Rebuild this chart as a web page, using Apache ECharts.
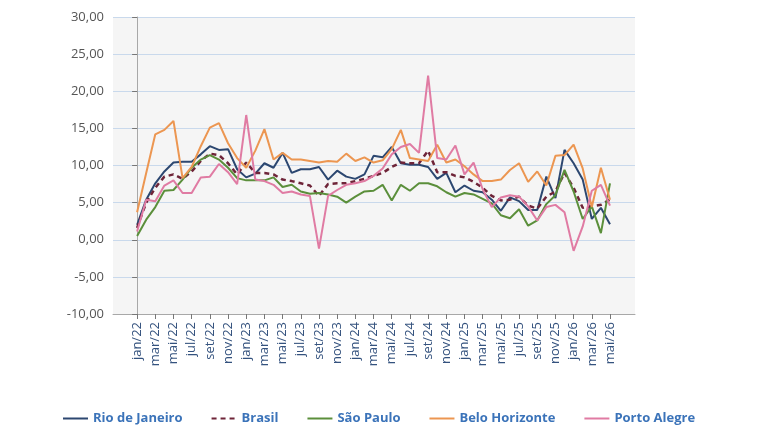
<!DOCTYPE html>
<html>
<head>
<meta charset="utf-8">
<script src="https://cdn.jsdelivr.net/npm/echarts@6/dist/echarts.min.js"></script>
<style>
  html, body { margin: 0; padding: 0; background: #fff; }
  #grafico { width: 768px; height: 432px; }
</style>
</head>
<body>
<div id="grafico"></div>
<script>
// meses jan/22 .. mai/26
var meses = [
    'jan/22', 'fev/22', 'mar/22', 'abr/22', 'mai/22', 'jun/22', 'jul/22', 'ago/22', 'set/22', 'out/22', 'nov/22', 'dez/22',
    'jan/23', 'fev/23', 'mar/23', 'abr/23', 'mai/23', 'jun/23', 'jul/23', 'ago/23', 'set/23', 'out/23', 'nov/23', 'dez/23',
    'jan/24', 'fev/24', 'mar/24', 'abr/24', 'mai/24', 'jun/24', 'jul/24', 'ago/24', 'set/24', 'out/24', 'nov/24', 'dez/24',
    'jan/25', 'fev/25', 'mar/25', 'abr/25', 'mai/25', 'jun/25', 'jul/25', 'ago/25', 'set/25', 'out/25', 'nov/25', 'dez/25',
    'jan/26', 'fev/26', 'mar/26', 'abr/26', 'mai/26'
];

var rioDeJaneiro = [
    2.0, 5.4, 7.6, 9.2, 10.4, 10.5, 10.5, 11.5, 12.6, 12.1, 12.2, 9.5,
    8.4, 8.9, 10.3, 9.7, 11.7, 9.0, 9.5, 9.5, 9.8, 8.1, 9.3, 8.5,
    8.2, 8.8, 11.3, 11.1, 12.5, 10.3, 10.1, 10.1, 9.8, 8.2, 9.0, 6.4,
    7.3, 6.6, 6.4, 5.4, 3.9, 5.7, 5.2, 4.0, 4.0, 8.5, 5.6, 12.1,
    10.3, 8.1, 2.8, 4.3, 2.1
];
var brasil = [
    1.6, 5.0, 7.0, 8.5, 8.8, 8.2, 9.2, 10.6, 11.6, 11.4, 10.3, 8.8,
    10.4, 9.0, 9.0, 8.8, 8.1, 7.9, 7.6, 7.3, 5.9, 7.5, 7.6, 7.6,
    7.9, 8.2, 8.6, 9.0, 9.8, 10.4, 10.3, 10.3, 12.0, 9.1, 9.1, 8.6,
    8.4, 7.8, 7.0, 5.9, 5.3, 5.4, 5.8, 4.6, 4.2, 5.8, 6.5, 9.0,
    7.0, 4.3, 4.5, 4.7, 5.4
];
var saoPaulo = [
    0.5, 2.7, 4.4, 6.6, 6.7, 8.1, 9.7, 10.8, 11.4, 10.8, 9.7, 8.3,
    8.0, 8.0, 8.0, 8.4, 7.1, 7.4, 6.5, 6.2, 6.3, 6.1, 5.8, 5.0,
    5.8, 6.5, 6.6, 7.4, 5.3, 7.4, 6.6, 7.6, 7.6, 7.2, 6.4, 5.8,
    6.3, 6.1, 5.5, 4.9, 3.3, 2.9, 4.1, 1.9, 2.6, 4.8, 6.0, 9.4,
    6.5, 2.8, 4.5, 0.9, 7.6
];
var beloHorizonte = [
    3.7, 9.0, 14.2, 14.8, 16.0, 8.3, 9.8, 12.6, 15.1, 15.7, 13.0, 11.0,
    9.7, 12.0, 14.9, 10.8, 11.7, 10.8, 10.8, 10.6, 10.4, 10.6, 10.5, 11.6,
    10.6, 11.1, 10.4, 10.7, 12.2, 14.8, 11.0, 10.8, 10.6, 12.8, 10.4, 10.8,
    9.9, 8.8, 7.9, 7.9, 8.1, 9.4, 10.3, 7.8, 9.2, 7.3, 11.3, 11.4,
    12.8, 9.6, 4.4, 9.7, 5.4
];
var portoAlegre = [
    1.1, 5.4, 5.2, 7.3, 8.0, 6.3, 6.3, 8.4, 8.5, 10.2, 9.1, 7.5,
    16.8, 8.1, 7.9, 7.4, 6.3, 6.5, 6.1, 5.9, -1.2, 5.9, 6.7, 7.4,
    7.6, 7.9, 8.6, 9.6, 11.5, 12.5, 12.9, 11.7, 22.1, 11.0, 10.8, 12.7,
    8.8, 10.4, 6.8, 4.4, 5.7, 6.0, 5.8, 4.5, 2.6, 4.4, 4.7, 3.7,
    -1.5, 1.8, 6.6, 7.4, 4.6
];

// rotulos do eixo x a cada 2 meses
var posRotulos = [];
for (var k = 0; k < meses.length; k += 2) { posRotulos.push(k); }

// converte lista de valores em pares [indice, valor]
function pares(valores) {
    return valores.map(function (v, i) { return [i, v]; });
}

function serie(nome, valores, cor, largura, tipo) {
    return {
        name: nome,
        type: 'line',
        data: pares(valores),
        symbol: 'none',
        smooth: false,
        lineStyle: { color: cor, width: largura, type: tipo || 'solid' },
        itemStyle: { color: cor }
    };
}

var grafico = echarts.init(document.getElementById('grafico'));

grafico.setOption({
    animation: false,
    backgroundColor: '#ffffff',
    grid: {
        left: 113, right: 133, top: 17, bottom: 118,
        show: true, backgroundColor: '#f5f5f5', borderWidth: 0
    },
    legend: {
        bottom: 2,
        left: 57,
        itemWidth: 25,
        itemHeight: 12,
        itemGap: 28,
        itemStyle: { opacity: 0 },
        textStyle: { color: '#3b73b9', fontWeight: 'bold', fontSize: 13, fontFamily: 'Open Sans' },
        data: ['Rio de Janeiro', 'Brasil', 'São Paulo', 'Belo Horizonte', 'Porto Alegre']
    },
    xAxis: {
        type: 'value',
        min: -2.65,
        max: 54.75,
        axisLine: { show: true, onZero: false, lineStyle: { color: '#a8a8a8' } },
        axisTick: { show: true, length: 5, customValues: posRotulos, lineStyle: { color: '#777' } },
        splitLine: { show: false },
        axisLabel: {
            customValues: posRotulos,
            rotate: 90,
            margin: 8,
            color: '#34527e',
            fontSize: 13,
            fontFamily: 'Open Sans',
            formatter: function (v) { return meses[Math.round(v)] || ''; }
        }
    },
    yAxis: {
        type: 'value',
        min: -10,
        max: 30,
        interval: 5,
        axisLine: { show: true, lineStyle: { color: '#a8a8a8' } },
        axisTick: { show: true, length: 5, lineStyle: { color: '#777' } },
        splitLine: { show: true, lineStyle: { color: '#c9d9ec', width: 1 } },
        axisLabel: {
            color: '#555',
            fontSize: 13,
            fontFamily: 'Open Sans',
            margin: 9,
            formatter: function (v) { return v.toFixed(2).replace('.', ','); }
        }
    },
    series: [
        serie('Rio de Janeiro', rioDeJaneiro, '#2c4770', 2),
        serie('Brasil', brasil, '#6e2438', 2.5, [5, 4]),
        serie('São Paulo', saoPaulo, '#5b8f3b', 2),
        serie('Belo Horizonte', beloHorizonte, '#ec9651', 2),
        serie('Porto Alegre', portoAlegre, '#e07ba3', 2)
    ]
});
</script>
</body>
</html>
